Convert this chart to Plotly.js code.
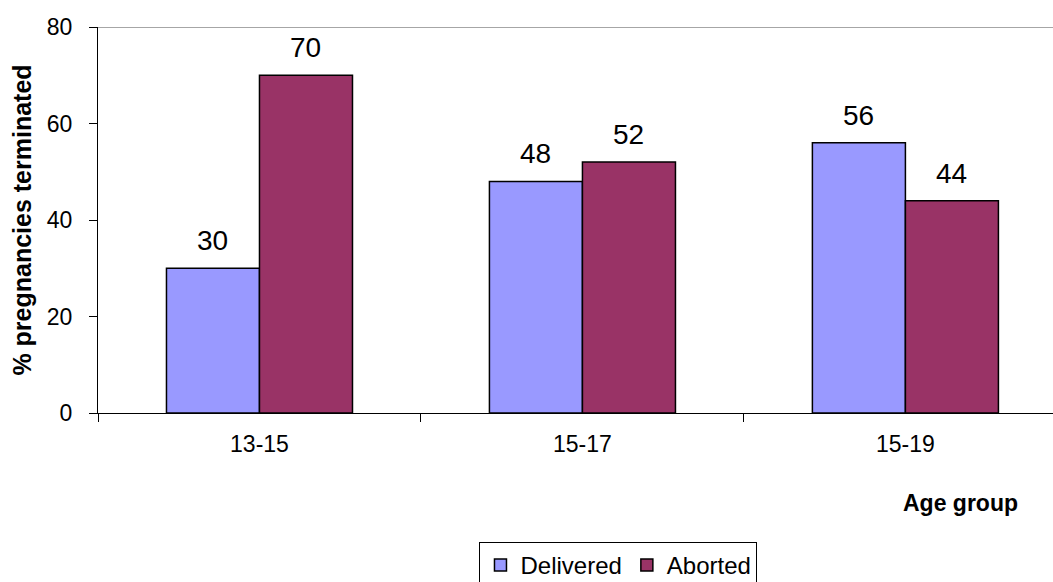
<!DOCTYPE html>
<html>
<head>
<meta charset="utf-8">
<script src="https://cdn.plot.ly/plotly-3.0.1.min.js"></script>
<style>html,body{margin:0;padding:0;background:#fff;}#chart{width:1053px;height:582px;}</style>
</head>
<body>
<div id="chart"></div>
<script>
const categories = ["13-15", "15-17", "15-19"];
const delivered = [30, 48, 56];
const aborted = [70, 52, 44];
const seriesNames = ["Delivered", "Aborted"];
const yTicks = [0, 20, 40, 60, 80];

const FONT = "Liberation Sans, Arial, sans-serif";
const BARGAP = 0.424;
const halfBar = (1 - BARGAP) / 4; // center offset of each bar in category units
const catPx = 323;

const traces = [
  {type: "bar", name: seriesNames[0], x: categories, y: delivered,
   marker: {color: "#9999FF", line: {color: "#000000", width: 1.5}}, hoverinfo: "none"},
  {type: "bar", name: seriesNames[1], x: categories, y: aborted,
   marker: {color: "#993366", line: {color: "#000000", width: 1.5}}, hoverinfo: "none"}
];

const annotations = [];
[delivered, aborted].forEach((vals, s) => {
  vals.forEach((v, i) => {
    annotations.push({
      x: categories[i], y: v, xref: "x", yref: "y",
      xshift: (s === 0 ? -1 : 1) * halfBar * catPx,
      yshift: 10, yanchor: "bottom", showarrow: false,
      text: String(v), font: {family: FONT, size: 28, color: "#000"}
    });
  });
});
annotations.push({
  xref: "paper", yref: "paper", x: (1020 - 98) / 955, y: (413 - 503) / 386,
  xanchor: "right", yanchor: "middle", showarrow: false,
  text: "<b>Age group</b>", font: {family: FONT, size: 23, color: "#000"}
});

const layout = {
  width: 1053, height: 582,
  margin: {l: 98, r: 0, t: 27, b: 169, autoexpand: false},
  paper_bgcolor: "#ffffff", plot_bgcolor: "#ffffff",
  barmode: "group", bargap: BARGAP, bargroupgap: 0,
  showlegend: true,
  legend: {
    orientation: "h", x: 0.545, xanchor: "center", y: (413 - 542) / 386, yanchor: "top",
    bordercolor: "#000000", borderwidth: 1, bgcolor: "#ffffff",
    font: {family: FONT, size: 24, color: "#000"}, itemwidth: 30,
    tracegroupgap: 0
  },
  xaxis: {
    type: "category", range: [-0.5, 2.457], tickson: "boundaries",
    ticks: "outside", ticklen: 8, tickcolor: "#000", tickwidth: 1,
    showline: true, linecolor: "#000", linewidth: 1,
    showgrid: false, zeroline: false, fixedrange: true,
    tickfont: {family: FONT, size: 23, color: "#000"},
    ticklabelstandoff: 10
  },
  yaxis: {
    range: [0, 80], tickvals: yTicks, ticktext: yTicks.map(String),
    ticks: "outside", ticklen: 8, tickcolor: "#000", tickwidth: 1,
    showline: true, linecolor: "#000", linewidth: 1,
    showgrid: false, zeroline: false, fixedrange: true,
    tickfont: {family: FONT, size: 23, color: "#000"},
    ticklabelstandoff: 12,
    title: {text: "<b>% pregnancies terminated</b>", font: {family: FONT, size: 25, color: "#000"}, standoff: 8}
  },
  shapes: [{type: "line", xref: "paper", yref: "y", x0: 0, x1: 1, y0: 80, y1: 80,
            line: {color: "#888888", width: 1.5}}],
  annotations: annotations
};

Plotly.newPlot("chart", traces, layout, {displayModeBar: false, staticPlot: true});
</script>
</body>
</html>
